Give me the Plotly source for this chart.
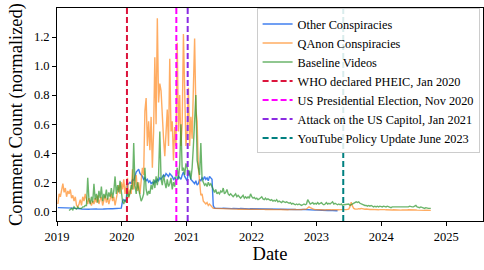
import pandas as pd
import plotly.graph_objects as go

# ---------------- data (weekly) ----------------
OTHER_START = "2019-01-06"
other = [
    0.025,0.025,0.024,0.026,0.025,0.024,0.025,0.026,0.024,0.025,
    0.025,0.024,0.023,0.022,0.02,0.018,0.017,0.016,0.017,0.016,
    0.015,0.016,0.015,0.016,0.015,0.014,0.015,0.016,0.015,0.014,
    0.015,0.016,0.015,0.014,0.015,0.016,0.015,0.016,0.017,0.016,
    0.017,0.016,0.017,0.018,0.017,0.018,0.017,0.018,0.019,0.018,
    0.02,0.022,
    0.07,0.08,0.07,0.08,0.18,0.19,0.20,0.19,0.22,0.21,
    0.24,0.27,0.28,0.29,0.26,0.25,0.24,0.22,0.23,0.21,
    0.22,0.20,0.21,0.19,0.20,0.19,0.21,0.20,0.22,0.21,
    0.23,0.22,0.24,0.25,0.24,0.26,0.25,0.24,0.26,0.25,
    0.24,0.22,0.23,0.21,0.22,0.24,0.23,0.22,0.25,0.27,
    0.24,0.22,
    0.21,0.28,0.24,0.22,0.21,0.20,0.19,0.21,0.18,0.19,
    0.22,0.21,0.23,0.22,0.24,0.22,0.23,0.21,0.24,0.23,
    0.22,0.04,0.022,
    0.021,0.02,0.021,0.02,0.019,0.02,0.021,0.02,0.019,0.02,0.019,0.02,0.019,0.018,
    0.019,0.018,0.019,0.018,0.017,0.018,0.019,0.018,0.017,0.018,0.017,0.018,0.017,0.016,0.017,
    0.017,0.016,0.017,0.016,0.017,0.016,0.015,0.016,0.015,0.016,0.015,0.016,0.015,0.014,0.015,
    0.015,0.014,0.015,0.014,0.015,0.014,0.013,0.014,0.013,0.014,0.013,0.014,0.013,0.012,0.013,
    0.013,0.012,0.013,0.012,0.013,0.012,0.011,0.012,0.011,0.012,0.013,0.014,0.013,0.012,0.011,
    0.012,0.011,0.01,0.009,0.01,0.009,0.008,0.009,0.008,0.007,0.008,0.007,0.006,0.007,0.006,
    0.006,0.005,0.006,0.005,0.006,0.005,0.004,0.005,0.004,0.004,
]

QANON_START = "2019-01-06"
qanon = [
    0.05,0.12,0.10,0.15,0.19,0.13,0.16,0.10,0.14,0.12,
    0.15,0.09,0.11,0.07,0.10,0.04,0.03,0.05,0.08,0.04,
    0.10,0.07,0.12,0.08,0.05,0.09,0.06,0.04,0.07,0.05,
    0.09,0.06,0.11,0.05,0.08,0.10,0.04,0.07,0.11,0.06,
    0.09,0.05,0.08,0.12,0.07,0.10,0.04,0.08,0.13,0.18,
    0.12,0.20,
    0.15,0.22,0.12,0.18,0.23,0.09,0.15,0.12,0.29,0.15,
    0.22,0.25,0.14,0.20,0.12,0.22,0.30,0.25,0.69,0.78,
    0.45,0.62,0.42,0.65,0.30,0.55,1.06,0.60,1.33,0.75,
    0.88,0.83,0.62,0.50,0.38,0.55,0.70,0.45,1.05,0.55,
    0.62,0.35,0.58,0.45,1.16,0.55,0.80,0.45,0.60,1.22,
    0.75,0.45,
    0.55,0.85,0.45,0.65,0.50,0.90,1.19,0.70,0.62,0.30,
    0.19,0.11,0.12,0.07,0.06,0.05,0.06,0.04,0.05,0.04,
    0.03,0.02,0.02,
    0.02,0.018,0.02,0.017,0.019,0.016,0.018,0.017,0.016,0.018,0.015,0.017,0.016,0.015,
    0.016,0.015,0.017,0.015,0.014,0.016,0.015,0.014,0.015,0.016,0.014,0.015,0.013,0.014,0.016,
    0.015,0.014,0.013,0.015,0.014,0.013,0.014,0.012,0.013,0.014,0.013,0.012,0.013,0.012,0.013,
    0.012,0.013,0.012,0.011,0.012,0.013,0.012,0.011,0.012,0.011,0.012,0.011,0.012,0.011,0.01,
    0.011,0.012,0.011,0.01,0.011,0.012,0.011,0.01,0.011,0.012,0.011,0.013,0.012,0.014,0.016,
    0.022,0.03,0.025,0.02,0.015,0.013,0.012,0.011,0.012,0.01,0.011,0.01,0.011,0.01,0.009,
    0.01,0.009,0.01,0.009,0.01,0.011,0.01,0.009,0.01,0.009,0.01,0.011,0.01,0.012,0.011,
    0.012,0.011,0.013,0.015,0.032,0.062,0.035,0.02,0.016,0.014,0.015,0.018,0.016,0.02,0.017,
    0.015,0.014,0.016,0.013,0.014,0.012,0.013,0.012,0.011,0.012,0.011,0.012,0.01,0.011,0.012,
    0.011,0.01,0.011,0.01,0.009,0.01,0.011,0.01,0.009,0.01,0.009,0.008,0.009,0.01,0.009,
    0.008,0.009,0.008,0.009,0.008,0.009,0.01,0.009,0.008,0.009,0.008,0.01,0.009,0.008,0.007,
    0.008,0.007,0.008,0.007,0.006,0.007,0.006,0.007,0.006,0.006,
]

BASELINE_START = "2019-03-10"
baseline = [
    0.005,0.01,0.02,0.01,0.03,0.02,0.015,0.03,0.02,0.02,
    0.02,0.03,0.03,0.04,0.04,0.23,0.08,0.05,0.10,0.06,
    0.19,0.08,0.12,0.06,0.14,0.09,0.17,0.07,0.12,0.09,
    0.15,0.08,0.13,0.10,0.16,0.09,0.14,0.24,0.12,0.18,
    0.13,0.21,0.15,
    0.07,0.05,0.08,0.06,0.14,0.10,0.12,0.18,0.15,0.47,
    0.18,0.12,0.20,0.15,0.10,0.07,0.09,0.12,0.30,0.15,
    0.11,0.14,0.12,0.18,0.15,0.22,0.16,0.24,0.18,0.25,
    0.55,0.22,0.18,0.25,0.20,0.16,0.22,0.17,0.19,0.23,
    0.15,0.20,0.17,0.24,0.30,0.22,0.32,0.60,0.28,0.30,
    0.25,0.33,
    0.30,0.25,0.28,0.22,0.30,0.45,0.62,0.80,0.35,0.28,
    0.25,0.47,0.22,0.20,0.18,0.19,0.17,0.20,0.18,0.19,
    0.17,0.14,0.13,
    0.15,0.12,0.13,0.12,0.14,0.13,0.16,0.12,0.13,0.15,0.12,0.11,0.12,0.11,
    0.10,0.11,0.12,0.10,0.11,0.10,0.09,0.10,0.11,0.09,0.10,0.09,0.10,0.09,0.12,
    0.10,0.09,0.095,0.085,0.09,0.08,0.085,0.09,0.10,0.085,0.08,0.09,0.08,0.085,0.08,
    0.075,0.08,0.07,0.075,0.07,0.08,0.065,0.07,0.065,0.06,0.07,0.065,0.06,0.065,0.06,
    0.055,0.06,0.05,0.055,0.05,0.045,0.05,0.045,0.05,0.045,0.04,0.045,0.05,0.045,0.05,
    0.08,0.06,0.05,0.055,0.06,0.05,0.055,0.05,0.06,0.05,0.055,0.06,0.05,0.045,0.05,
    0.06,0.05,0.055,0.05,0.06,0.065,0.05,0.055,0.05,0.045,0.05,0.045,0.05,0.04,0.045,
    0.045,0.05,0.045,0.05,0.04,0.045,0.05,0.055,0.06,0.065,0.06,0.065,0.055,0.05,0.045,
    0.045,0.04,0.04,0.035,0.04,0.035,0.04,0.035,0.03,0.035,0.03,0.035,0.03,0.035,0.03,
    0.03,0.035,0.03,0.03,0.035,0.03,0.03,0.025,0.03,0.03,0.025,0.03,0.03,0.025,0.03,
    0.03,0.025,0.03,0.03,0.025,0.03,0.03,0.035,0.03,0.03,0.03,0.035,0.04,0.03,0.025,
    0.025,0.03,0.025,0.025,0.02,0.025,0.02,0.02,0.02,0.02,
]

event_names = [
    "WHO declared PHEIC, Jan 2020",
    "US Presidential Election, Nov 2020",
    "Attack on the US Capitol, Jan 2021",
    "YouTube Policy Update June 2023",
]
event_dates = ["2020-01-30", "2020-11-03", "2021-01-06", "2023-06-01"]
event_colors = ["#dc143c", "#ff00ff", "#8a2be2", "#008080"]

year_ticks = ["2019", "2020", "2021", "2022", "2023", "2024", "2025"]
y_ticks = [0.0, 0.2, 0.4, 0.6, 0.8, 1.0, 1.2]

# ---------------- figure ----------------
FONT = "Liberation Serif, Times New Roman, serif"
fig = go.Figure()

series = [
    ("Other Conspiracies", OTHER_START, other, "rgba(30,105,235,0.85)"),
    ("QAnon Conspiracies", QANON_START, qanon, "rgba(255,127,14,0.65)"),
    ("Baseline Videos", BASELINE_START, baseline, "rgba(44,150,44,0.7)"),
]
for name, start, vals, color in series:
    x = pd.date_range(start, periods=len(vals), freq="W-SUN")
    fig.add_trace(go.Scatter(x=x, y=vals, mode="lines", name=name,
                             line=dict(color=color, width=1.4)))

for name, d, c in zip(event_names, event_dates, event_colors):
    fig.add_shape(type="line", xref="x", yref="paper", x0=d, x1=d, y0=0, y1=1,
                  line=dict(color=c, width=2, dash="6px,3px"))
    fig.add_trace(go.Scatter(x=[None], y=[None], mode="lines", name=name,
                             line=dict(color=c, width=2, dash="6px,3px")))

fig.update_layout(
    width=484, height=270,
    margin=dict(l=57, r=1, t=8, b=49, autoexpand=False),
    paper_bgcolor="white", plot_bgcolor="white",
    font=dict(family=FONT, color="black", size=12),
    legend=dict(x=0.992, y=0.998, xanchor="right", yanchor="top",
                bgcolor="rgba(255,255,255,0.85)", bordercolor="#cccccc", borderwidth=1,
                font=dict(family=FONT, size=12.3), tracegroupgap=0),
)
fig.update_xaxes(
    range=["2019-01-01", "2025-07-27"],
    tickvals=[f"{y}-01-01" for y in year_ticks], ticktext=year_ticks,
    ticks="outside", ticklen=4, tickcolor="black",
    showline=True, linecolor="black", linewidth=1, mirror=True, showgrid=False,
    zeroline=False, tickfont=dict(family=FONT, size=12.5), automargin=False,
    title=dict(text="Date", font=dict(family=FONT, size=18.5), standoff=4),
)
fig.update_yaxes(
    range=[-0.067, 1.40],
    tickvals=y_ticks, ticktext=[f"{v:.1f}" for v in y_ticks],
    ticks="outside", ticklen=4, tickcolor="black",
    showline=True, linecolor="black", linewidth=1, mirror=True, showgrid=False,
    zeroline=False, tickfont=dict(family=FONT, size=12.5), automargin=False,
    title=dict(text="Comment Count (normalized)", font=dict(family=FONT, size=18.5), standoff=6),
)

fig.write_html(
    "out.html",
    config={"displayModeBar": False},
    post_script="document.body.style.margin='0';document.body.style.overflow='hidden';",
)
